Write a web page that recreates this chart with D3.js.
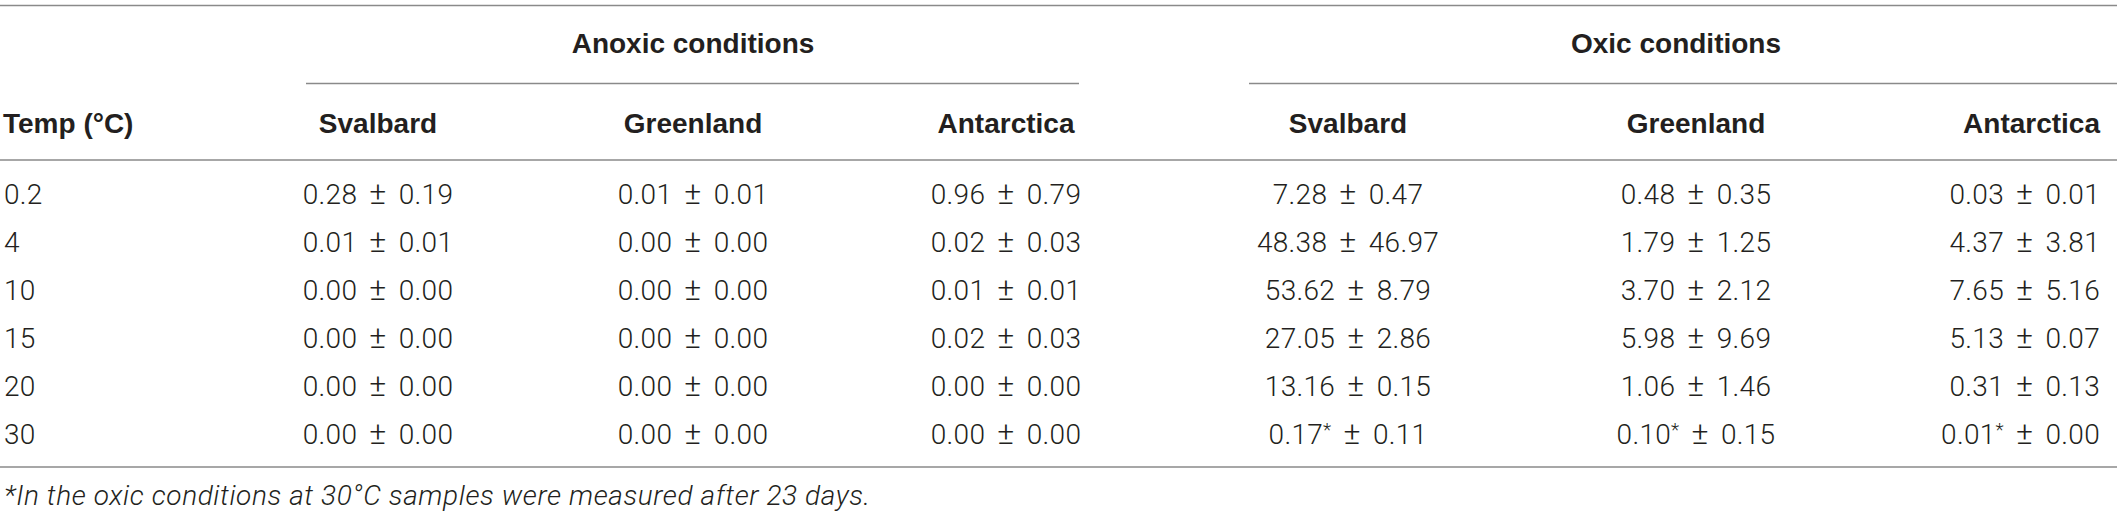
<!DOCTYPE html>
<html>
<head>
<meta charset="utf-8">
<script src="https://cdn.jsdelivr.net/npm/d3@7"></script>
<style>
  html, body { margin: 0; padding: 0; background: #ffffff; }
  svg { display: block; }
  .hdr { font-family: "Liberation Sans", Arial, Helvetica, sans-serif; font-weight: 700; font-size: 28px; fill: #231f20; }
  .cell { font-family: Roboto, "Liberation Sans", Arial, sans-serif; font-weight: 300; font-size: 28px; fill: #231f20; word-spacing: 5px; letter-spacing: 0.3px; }
  .pm { font-size: 32px; }
  .note { font-family: Roboto, "Liberation Sans", Arial, sans-serif; font-weight: 300; font-style: italic; font-size: 28px; letter-spacing: 0.6px; fill: #231f20; }
  .rule { stroke: #8a8a8a; stroke-width: 1.6; }
</style>
</head>
<body>
<script>
// ---------- data ----------
const temps = ["0.2", "4", "10", "15", "20", "30"];
const stubHeader = "Temp (°C)";
const groups = ["Anoxic conditions", "Oxic conditions"];
const sites = ["Svalbard", "Greenland", "Antarctica"];

const anoxicSvalbardMean   = [0.28, 0.01, 0.00, 0.00, 0.00, 0.00];
const anoxicSvalbardSd     = [0.19, 0.01, 0.00, 0.00, 0.00, 0.00];
const anoxicGreenlandMean  = [0.01, 0.00, 0.00, 0.00, 0.00, 0.00];
const anoxicGreenlandSd    = [0.01, 0.00, 0.00, 0.00, 0.00, 0.00];
const anoxicAntarcticaMean = [0.96, 0.02, 0.01, 0.02, 0.00, 0.00];
const anoxicAntarcticaSd   = [0.79, 0.03, 0.01, 0.03, 0.00, 0.00];

const oxicSvalbardMean   = [7.28, 48.38, 53.62, 27.05, 13.16, 0.17];
const oxicSvalbardSd     = [0.47, 46.97, 8.79, 2.86, 0.15, 0.11];
const oxicGreenlandMean  = [0.48, 1.79, 3.70, 5.98, 1.06, 0.10];
const oxicGreenlandSd    = [0.35, 1.25, 2.12, 9.69, 1.46, 0.15];
const oxicAntarcticaMean = [0.03, 4.37, 7.65, 5.13, 0.31, 0.01];
const oxicAntarcticaSd   = [0.01, 3.81, 5.16, 0.07, 0.13, 0.00];

// rows whose oxic values carry the footnote marker
const oxicMarkedTemps = ["30"];
const footnote = "*In the oxic conditions at 30°C samples were measured after 23 days.";

// ---------- table model built from the arrays ----------
const columns = [
  { key: "aS", group: 0, site: 0, mean: anoxicSvalbardMean,   sd: anoxicSvalbardSd,   marked: [] },
  { key: "aG", group: 0, site: 1, mean: anoxicGreenlandMean,  sd: anoxicGreenlandSd,  marked: [] },
  { key: "aA", group: 0, site: 2, mean: anoxicAntarcticaMean, sd: anoxicAntarcticaSd, marked: [] },
  { key: "oS", group: 1, site: 0, mean: oxicSvalbardMean,     sd: oxicSvalbardSd,     marked: oxicMarkedTemps },
  { key: "oG", group: 1, site: 1, mean: oxicGreenlandMean,    sd: oxicGreenlandSd,    marked: oxicMarkedTemps },
  { key: "oA", group: 1, site: 2, mean: oxicAntarcticaMean,   sd: oxicAntarcticaSd,   marked: oxicMarkedTemps }
];

// ---------- layout ----------
const W = 2117, H = 515;
const svg = d3.select("body").append("svg").attr("width", W).attr("height", H);

// column anchor positions and alignment
const colX = d3.scaleOrdinal().domain(columns.map(c => c.key))
  .range([378, 693, 1006, 1348, 1696, 2100]);
const colAnchor = d3.scaleOrdinal().domain(columns.map(c => c.key))
  .range(["middle", "middle", "middle", "middle", "middle", "end"]);
// group spanner extents
const spanX0 = d3.scaleOrdinal().domain([0, 1]).range([306, 1249]);
const spanX1 = d3.scaleOrdinal().domain([0, 1]).range([1079, 2117]);
const groupCenter = d3.scaleOrdinal().domain([0, 1]).range([693, 1676]);

// rows
const y = d3.scaleBand().domain(temps).range([170.5, 457.5]).paddingInner(0);
const stubX = 4;

const yTop = 5.5, ySpan = 83.5, yHead = 160, yBottom = 467;

// rules
svg.append("line").attr("class", "rule").attr("x1", 0).attr("x2", W).attr("y1", yTop).attr("y2", yTop);
svg.selectAll("line.span").data([0, 1]).enter().append("line")
  .attr("class", "rule span")
  .attr("x1", d => spanX0(d)).attr("x2", d => spanX1(d))
  .attr("y1", ySpan).attr("y2", ySpan);
svg.append("line").attr("class", "rule").attr("x1", 0).attr("x2", W).attr("y1", yHead).attr("y2", yHead);
svg.append("line").attr("class", "rule").attr("x1", 0).attr("x2", W).attr("y1", yBottom).attr("y2", yBottom);

// group headers
svg.selectAll("text.grp").data(groups).enter().append("text")
  .attr("class", "hdr grp")
  .attr("x", (d, i) => groupCenter(i))
  .attr("y", 53)
  .attr("text-anchor", "middle")
  .text(d => d);

// column headers
svg.append("text").attr("class", "hdr").attr("x", 3).attr("y", 133).text(stubHeader);
svg.selectAll("text.site").data(columns).enter().append("text")
  .attr("class", "hdr site")
  .attr("x", d => colX(d.key))
  .attr("y", 133)
  .attr("text-anchor", d => colAnchor(d.key))
  .text(d => sites[d.site]);

// stub column
svg.selectAll("text.temp").data(temps).enter().append("text")
  .attr("class", "cell temp")
  .attr("x", stubX)
  .attr("y", d => y(d) + y.bandwidth() / 2 + 10)
  .text(d => d);

// body cells
const fmt = d3.format(".2f");
const cells = [];
columns.forEach(c => temps.forEach((t, i) => cells.push({
  col: c, temp: t, mean: c.mean[i], sd: c.sd[i], mark: c.marked.includes(t)
})));

const cellText = svg.selectAll("text.val").data(cells).enter().append("text")
  .attr("class", "cell val")
  .attr("x", d => colX(d.col.key))
  .attr("y", d => y(d.temp) + y.bandwidth() / 2 + 10)
  .attr("text-anchor", d => colAnchor(d.col.key));

cellText.append("tspan").text(d => fmt(d.mean));
cellText.filter(d => d.mark).append("tspan")
  .attr("font-size", "19px").attr("dy", -8).text("*");
cellText.append("tspan")
  .attr("dy", d => d.mark ? 8 : 0)
  .text(" ");
cellText.append("tspan").attr("class", "pm").text("\u00B1");
cellText.append("tspan").text(d => " " + fmt(d.sd));

// footnote
svg.append("text").attr("class", "note").attr("x", 4).attr("y", 505).text(footnote);
</script>
</body>
</html>
